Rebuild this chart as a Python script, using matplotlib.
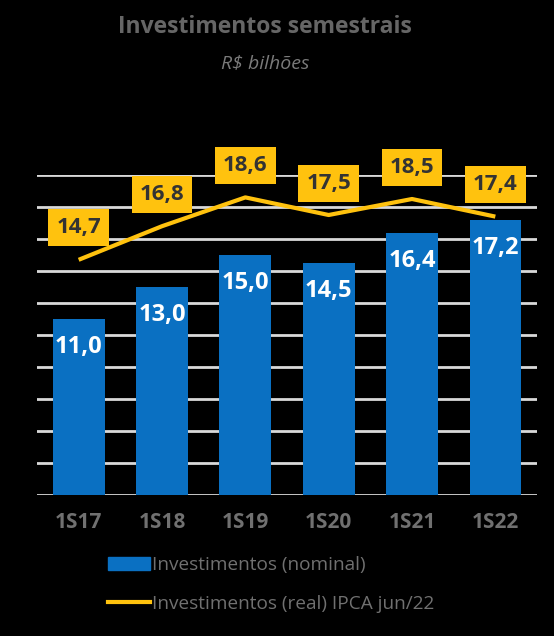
import matplotlib
matplotlib.use("Agg")
import matplotlib.pyplot as plt
from matplotlib.patches import Patch
from matplotlib.lines import Line2D

# dados (R$ bilhões)
semestres = ["1S17", "1S18", "1S19", "1S20", "1S21", "1S22"]
nominal = [11.0, 13.0, 15.0, 14.5, 16.4, 17.2]
real_ipca = [14.7, 16.8, 18.6, 17.5, 18.5, 17.4]

azul = "#0A70C2"
amarelo = "#FFC20E"
cinza = "#707070"

plt.rcParams["font.family"] = ["Open Sans", "DejaVu Sans"]

fig = plt.figure(figsize=(5.54, 6.36), dpi=100, facecolor="black")
ax = fig.add_axes([37 / 554, 141 / 636, 500 / 554, 320 / 636], facecolor="black")

x = range(len(semestres))
ax.bar(x, nominal, width=0.62, color=azul, zorder=2)
ax.plot(x, real_ipca, color=amarelo, lw=3, zorder=3, solid_capstyle="butt")

def fmt(v):
    return f"{v:.1f}".replace(".", ",")

for i, v in enumerate(nominal):
    ax.annotate(fmt(v), (i, v), xytext=(0, -28), textcoords="offset pixels",
                ha="center", va="center", color="white", fontsize=17,
                fontweight="bold", zorder=4)

for i, v in enumerate(real_ipca):
    ax.annotate(fmt(v), (i, v), xytext=(0, 32), textcoords="offset pixels",
                ha="center", va="center", color="#333333", fontsize=16,
                fontweight="bold", zorder=5,
                bbox=dict(boxstyle="square,pad=0.36", fc=amarelo, ec="none"))

ax.set_xlim(-0.5, 5.5)
ax.set_ylim(0, 20)
ax.set_yticks(range(0, 21, 2))
ax.yaxis.grid(True, color="#d9d9d9", lw=2)
ax.set_axisbelow(True)
ax.tick_params(axis="y", left=False, labelleft=False)
ax.tick_params(axis="x", length=0, pad=12)
ax.set_xticks(list(x))
ax.set_xticklabels(semestres, color=cinza, fontsize=15, fontweight="bold")
for s in ax.spines.values():
    s.set_visible(False)

fig.text(265 / 554, 1 - 27 / 636, "Investimentos semestrais", ha="center", va="center",
         color="#666666", fontsize=16.5, fontweight="bold")
fig.text(265 / 554, 1 - 63 / 636, "R$ bilhões", ha="center", va="center",
         color="#7a7a7a", fontsize=14, style="italic")

handles = [Patch(color=azul), Line2D([0], [0], color=amarelo, lw=3)]
labels = ["Investimentos (nominal)", "Investimentos (real) IPCA jun/22"]
fig.legend(handles, labels, loc="upper left", bbox_to_anchor=(108 / 554, 1 - 556 / 636),
           frameon=False, fontsize=13.7, labelcolor=cinza, handlelength=2.2,
           handletextpad=0.12, labelspacing=1.1, borderpad=0, borderaxespad=0)

fig.savefig("out.png", dpi=100, facecolor="black")
